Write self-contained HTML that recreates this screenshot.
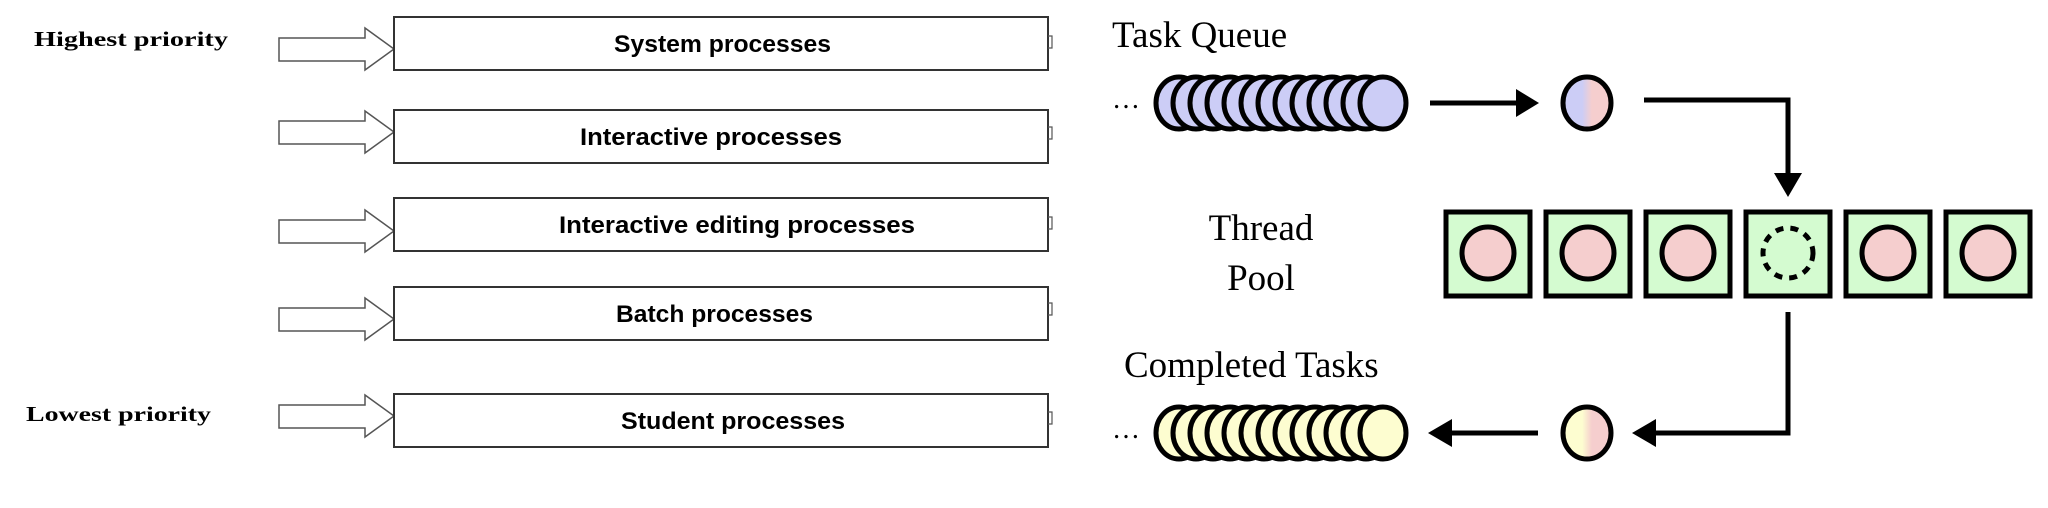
<!DOCTYPE html>
<html><head><meta charset="utf-8"><style>
html,body{margin:0;padding:0;background:#fff;}
svg{display:block;}
.lbl{font-family:"Liberation Serif",serif;font-weight:bold;font-size:21px;}
.bx{font-family:"Liberation Sans",sans-serif;font-weight:bold;font-size:24px;}
.tt{font-family:"Liberation Serif",serif;font-size:37px;}
</style></head><body>
<svg width="2048" height="508" viewBox="0 0 2048 508" xmlns="http://www.w3.org/2000/svg">
<defs>
<linearGradient id="g1" x1="0" x2="1" y1="0" y2="0"><stop offset="0.4" stop-color="#cccdf6"/><stop offset="0.6" stop-color="#f5cece"/></linearGradient>
<linearGradient id="g2" x1="0" x2="1" y1="0" y2="0"><stop offset="0.4" stop-color="#fdfdd0"/><stop offset="0.6" stop-color="#f5cece"/></linearGradient>
</defs>
<text class="lbl" x="34" y="46" textLength="194" lengthAdjust="spacingAndGlyphs">Highest priority</text>
<text class="lbl" x="26" y="421" textLength="185" lengthAdjust="spacingAndGlyphs">Lowest priority</text>
<g fill="#fff" stroke="#555" stroke-width="1.5">
<path d="M279,38 H365 V28 L394,49 L365,70 V61 H279 Z"/>
<path d="M279,121 H365 V111 L394,132 L365,153 V144 H279 Z"/>
<path d="M279,220 H365 V210 L394,231 L365,252 V243 H279 Z"/>
<path d="M279,308 H365 V298 L394,319 L365,340 V331 H279 Z"/>
<path d="M279,405 H365 V395 L394,416 L365,437 V428 H279 Z"/>
</g>
<g fill="#fff" stroke="#333" stroke-width="2">
<rect x="394" y="17" width="654" height="53"/>
<rect x="394" y="110" width="654" height="53"/>
<rect x="394" y="198" width="654" height="53"/>
<rect x="394" y="287" width="654" height="53"/>
<rect x="394" y="394" width="654" height="53"/>
</g>
<g fill="none" stroke="#555" stroke-width="1.2">
<path d="M1048,36 h4 v12 h-4"/><path d="M1048,127 h4 v12 h-4"/><path d="M1048,217 h4 v12 h-4"/><path d="M1048,303 h4 v12 h-4"/><path d="M1048,412 h4 v12 h-4"/>
</g>
<g class="bx" lengthAdjust="spacingAndGlyphs">
<text x="614" y="52" textLength="217" lengthAdjust="spacingAndGlyphs">System processes</text>
<text x="580" y="145" textLength="262" lengthAdjust="spacingAndGlyphs">Interactive processes</text>
<text x="559" y="233" textLength="356" lengthAdjust="spacingAndGlyphs">Interactive editing processes</text>
<text x="616" y="322" textLength="197" lengthAdjust="spacingAndGlyphs">Batch processes</text>
<text x="621" y="429" textLength="224" lengthAdjust="spacingAndGlyphs">Student processes</text>
</g>
<text class="tt" x="1112" y="47">Task Queue</text>
<text class="tt" x="1124" y="377">Completed Tasks</text>
<text class="tt" x="1261" y="240" text-anchor="middle">Thread</text>
<text class="tt" x="1261" y="290" text-anchor="middle">Pool</text>
<text x="1112" y="108" font-family="Liberation Serif,serif" font-size="28">…</text>
<text x="1112" y="438" font-family="Liberation Serif,serif" font-size="28">…</text>
<g stroke="#000" stroke-width="5" fill="#cccdf6">
<ellipse cx="1179" cy="103" rx="23" ry="26"/><ellipse cx="1196" cy="103" rx="23" ry="26"/><ellipse cx="1213" cy="103" rx="23" ry="26"/><ellipse cx="1230" cy="103" rx="23" ry="26"/><ellipse cx="1247" cy="103" rx="23" ry="26"/><ellipse cx="1264" cy="103" rx="23" ry="26"/><ellipse cx="1281" cy="103" rx="23" ry="26"/><ellipse cx="1298" cy="103" rx="23" ry="26"/><ellipse cx="1315" cy="103" rx="23" ry="26"/><ellipse cx="1332" cy="103" rx="23" ry="26"/><ellipse cx="1349" cy="103" rx="23" ry="26"/><ellipse cx="1366" cy="103" rx="23" ry="26"/><ellipse cx="1383" cy="103" rx="23" ry="26"/>
</g>
<g stroke="#000" stroke-width="5" fill="#fdfdd0">
<ellipse cx="1179" cy="433" rx="23" ry="26"/><ellipse cx="1196" cy="433" rx="23" ry="26"/><ellipse cx="1213" cy="433" rx="23" ry="26"/><ellipse cx="1230" cy="433" rx="23" ry="26"/><ellipse cx="1247" cy="433" rx="23" ry="26"/><ellipse cx="1264" cy="433" rx="23" ry="26"/><ellipse cx="1281" cy="433" rx="23" ry="26"/><ellipse cx="1298" cy="433" rx="23" ry="26"/><ellipse cx="1315" cy="433" rx="23" ry="26"/><ellipse cx="1332" cy="433" rx="23" ry="26"/><ellipse cx="1349" cy="433" rx="23" ry="26"/><ellipse cx="1366" cy="433" rx="23" ry="26"/><ellipse cx="1383" cy="433" rx="23" ry="26"/>
</g>
<ellipse cx="1587" cy="103" rx="24" ry="26" fill="url(#g1)" stroke="#000" stroke-width="5"/>
<ellipse cx="1587" cy="433" rx="24" ry="26" fill="url(#g2)" stroke="#000" stroke-width="5"/>
<g stroke="#000" stroke-width="5" fill="none">
<line x1="1430" y1="103" x2="1520" y2="103"/>
<polyline points="1644,100 1788,100 1788,175"/>
<polyline points="1788,312 1788,433 1650,433"/>
<line x1="1538" y1="433" x2="1445" y2="433"/>
</g>
<g fill="#000">
<polygon points="1539,103 1516,89 1516,117"/>
<polygon points="1788,197 1774,173 1802,173"/>
<polygon points="1632,433 1656,419 1656,447"/>
<polygon points="1428,433 1452,419 1452,447"/>
</g>
<g stroke="#000" stroke-width="5" fill="#d4fbd0">
<rect x="1446" y="212" width="84" height="84"/><rect x="1546" y="212" width="84" height="84"/><rect x="1646" y="212" width="84" height="84"/><rect x="1746" y="212" width="84" height="84"/><rect x="1846" y="212" width="84" height="84"/><rect x="1946" y="212" width="84" height="84"/>
</g>
<g stroke="#000" stroke-width="5" fill="#f5cece">
<ellipse cx="1488" cy="253" rx="26" ry="26"/><ellipse cx="1588" cy="253" rx="26" ry="26"/><ellipse cx="1688" cy="253" rx="26" ry="26"/><ellipse cx="1888" cy="253" rx="26" ry="26"/><ellipse cx="1988" cy="253" rx="26" ry="26"/>
</g>
<ellipse cx="1788" cy="253" rx="25" ry="25" fill="none" stroke="#000" stroke-width="5" stroke-dasharray="8 7"/>
</svg>
</body></html>
